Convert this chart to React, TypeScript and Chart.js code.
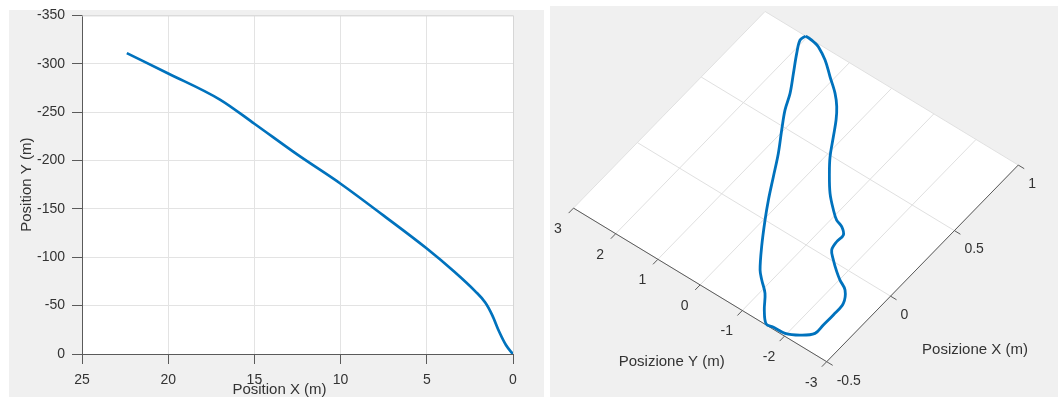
import React, { useEffect, useRef } from "react";
import { Chart, registerables } from "chart.js";

Chart.register(...registerables);

const FONT = "'Liberation Sans', Arial, Helvetica, sans-serif";
const BLUE = "#0072BD";
const TEXT = "#333333";
const AXIS = "#5a5a5a";
const GRID = "#e3e3e3";
const PANEL = "#f0f0f0";

// ---------- Left chart: Position X vs Position Y ----------
const trajX = [22.4, 20.0, 17.0, 15.0, 12.5, 10.0, 7.5, 5.0, 3.4, 2.2, 1.6, 1.2, 0.8, 0.4, 0.1, 0];
const trajY = [-311, -290, -263, -238, -206, -176, -143, -109, -85, -65, -53, -40, -23, -9, -2, 0];
const leftXRange = [0, 25];
const leftYRange = [-350, 0];
const leftXStep = 5;
const leftYStep = 50;
const leftXTitle = "Position X (m)";
const leftYTitle = "Position Y (m)";

// ---------- Right chart: closed loop seen in a 3D view ----------
const loopX = [1.0, 0.965, 0.891, 0.786, 0.68, 0.585, 0.48, 0.358, 0.232, 0.106, 0.0, -0.138, -0.254, -0.297, -0.352, -0.434, -0.495, -0.49, -0.485, -0.45, -0.398, -0.334, -0.257, -0.172, -0.103, -0.07, -0.039, 0.007, 0.05, 0.104, 0.156, 0.191, 0.208, 0.247, 0.317, 0.411, 0.493, 0.598, 0.686, 0.752, 0.811, 0.876, 0.942, 0.986, 0.995, 1.0, 1.0];
const loopY = [2.038, 2.064, 1.92, 1.68, 1.439, 1.272, 1.032, 0.743, 0.479, 0.215, -0.026, -0.363, -0.677, -0.847, -1.09, -1.322, -1.549, -1.697, -1.967, -2.216, -2.415, -2.418, -2.422, -2.402, -2.233, -2.014, -1.843, -1.624, -1.454, -1.408, -1.41, -1.265, -1.093, -0.899, -0.607, -0.307, -0.075, 0.165, 0.367, 0.551, 0.769, 1.085, 1.402, 1.695, 1.816, 1.963, 2.038];
const rightXTicks = [-0.5, 0, 0.5, 1];
const rightYTicks = [-3, -2, -1, 0, 1, 2, 3];
const rightXTitle = "Posizione X (m)";
const rightYTitle = "Posizione Y (m)";

// view (projection of the horizontal plane into the right canvas)
const VIEW = { ox: 276.7, oy: 355.7, ex: [127.7, -131.1], ey: [-42.2, -25.6] };
const RX = [rightXTicks[0], rightXTicks[rightXTicks.length - 1]];
const RY = [rightYTicks[0], rightYTicks[rightYTicks.length - 1]];
const RIGHT_W = 508;
const RIGHT_H = 391;

function project(X: number, Y: number) {
  const a = X - RX[0];
  const b = Y - RY[0];
  return {
    x: VIEW.ox + VIEW.ex[0] * a + VIEW.ey[0] * b,
    y: VIEW.oy + VIEW.ex[1] * a + VIEW.ey[1] * b,
  };
}

function LeftChart() {
  const ref = useRef<HTMLCanvasElement>(null);
  useEffect(() => {
    const plotBg = {
      id: "plotBg",
      beforeDraw(chart: any) {
        const { ctx, chartArea: a } = chart;
        ctx.save();
        ctx.fillStyle = "#ffffff";
        ctx.fillRect(a.left, a.top, a.right - a.left, a.bottom - a.top);
        ctx.restore();
      },
      beforeDatasetsDraw(chart: any) {
        const { ctx, chartArea: a } = chart;
        ctx.save();
        ctx.strokeStyle = "#d6d6d6";
        ctx.lineWidth = 1;
        ctx.beginPath();
        ctx.moveTo(a.left, a.top + 0.5);
        ctx.lineTo(a.right + 0.5, a.top + 0.5);
        ctx.lineTo(a.right + 0.5, a.bottom);
        ctx.stroke();
        ctx.restore();
      },
      afterDraw(chart: any) {
        const { ctx, chartArea: a } = chart;
        ctx.save();
        ctx.fillStyle = TEXT;
        ctx.font = `15px ${FONT}`;
        ctx.textAlign = "center";
        ctx.textBaseline = "middle";
        ctx.fillText(leftXTitle, (a.left + a.right) / 2 - 18, a.bottom + 35.5);
        ctx.restore();
      },
    };
    const chart = new Chart(ref.current!, {
      type: "line",
      data: {
        datasets: [
          {
            data: trajX.map((x, i) => ({ x, y: trajY[i] })),
            borderColor: BLUE,
            borderWidth: 2.7,
            pointRadius: 0,
            cubicInterpolationMode: "monotone",
            fill: false,
          },
        ],
      },
      options: {
        responsive: false,
        animation: false,
        layout: { padding: { top: 15, right: 31, left: 0, bottom: 0 } },
        plugins: { legend: { display: false }, tooltip: { enabled: false } },
        scales: {
          x: {
            type: "linear",
            reverse: true,
            min: leftXRange[0],
            max: leftXRange[1],
            afterFit: (s: any) => {
              s.height = 43;
            },
            ticks: { stepSize: leftXStep, padding: 8, color: TEXT, font: { family: FONT, size: 14 } },
            grid: { color: GRID, tickColor: AXIS, tickLength: 10, drawTicks: true },
            border: { color: AXIS, width: 1 },
          },
          y: {
            type: "linear",
            reverse: true,
            min: leftYRange[0],
            max: leftYRange[1],
            afterFit: (s: any) => {
              s.width = 73;
            },
            ticks: { stepSize: leftYStep, padding: 7, color: TEXT, font: { family: FONT, size: 14 } },
            grid: { color: GRID, tickColor: AXIS, tickLength: 10, drawTicks: true },
            border: { color: AXIS, width: 1 },
            title: {
              display: true,
              text: leftYTitle,
              color: TEXT,
              font: { family: FONT, size: 15, lineHeight: 1.2 },
              padding: { top: 9, bottom: 0 },
            },
          },
        },
      },
      plugins: [plotBg],
    } as any);
    return () => chart.destroy();
  }, []);
  return (
    <>
      <div style={{ position: "absolute", left: 9, top: 10, width: 535, height: 387, background: PANEL }} />
      <canvas
        ref={ref}
        width={535}
        height={397}
        style={{ position: "absolute", left: 9, top: 0, width: 535, height: 397 }}
      />
    </>
  );
}

function RightChart() {
  const ref = useRef<HTMLCanvasElement>(null);
  useEffect(() => {
    const box3d = {
      id: "box3d",
      beforeDatasetsDraw(chart: any) {
        const { ctx } = chart;
        const xs = chart.scales.x;
        const ys = chart.scales.y;
        const P = (X: number, Y: number) => {
          const p = project(X, Y);
          return { x: xs.getPixelForValue(p.x), y: ys.getPixelForValue(p.y) };
        };
        ctx.save();
        // plane face
        const c1 = P(RX[0], RY[0]);
        const c2 = P(RX[1], RY[0]);
        const c3 = P(RX[1], RY[1]);
        const c4 = P(RX[0], RY[1]);
        ctx.fillStyle = "#ffffff";
        ctx.beginPath();
        ctx.moveTo(c1.x, c1.y);
        ctx.lineTo(c2.x, c2.y);
        ctx.lineTo(c3.x, c3.y);
        ctx.lineTo(c4.x, c4.y);
        ctx.closePath();
        ctx.fill();
        // grid
        ctx.strokeStyle = "#e0e0e0";
        ctx.lineWidth = 1;
        for (const xt of rightXTicks) {
          const a = P(xt, RY[0]);
          const b = P(xt, RY[1]);
          ctx.beginPath();
          ctx.moveTo(a.x, a.y);
          ctx.lineTo(b.x, b.y);
          ctx.stroke();
        }
        for (const yt of rightYTicks) {
          const a = P(RX[0], yt);
          const b = P(RX[1], yt);
          ctx.beginPath();
          ctx.moveTo(a.x, a.y);
          ctx.lineTo(b.x, b.y);
          ctx.stroke();
        }
        // axis lines
        ctx.strokeStyle = AXIS;
        ctx.beginPath();
        ctx.moveTo(c4.x, c4.y);
        ctx.lineTo(c1.x, c1.y);
        ctx.lineTo(c2.x, c2.y);
        ctx.stroke();
        // ticks
        const exLen = Math.hypot(VIEW.ex[0], VIEW.ex[1]);
        const eyLen = Math.hypot(VIEW.ey[0], VIEW.ey[1]);
        const tickLen = 7;
        ctx.beginPath();
        for (const yt of rightYTicks) {
          const a = P(RX[0], yt);
          ctx.moveTo(a.x, a.y);
          ctx.lineTo(a.x - (VIEW.ex[0] / exLen) * tickLen, a.y - (VIEW.ex[1] / exLen) * tickLen);
        }
        for (const xt of rightXTicks) {
          const a = P(xt, RY[0]);
          ctx.moveTo(a.x, a.y);
          ctx.lineTo(a.x - (VIEW.ey[0] / eyLen) * tickLen, a.y - (VIEW.ey[1] / eyLen) * tickLen);
        }
        ctx.stroke();
        // tick labels
        ctx.fillStyle = TEXT;
        ctx.font = `14px ${FONT}`;
        ctx.textBaseline = "middle";
        ctx.textAlign = "center";
        for (const yt of rightYTicks) {
          const a = P(RX[0], yt);
          ctx.fillText(String(yt), a.x - 15.5, a.y + 21);
        }
        ctx.textAlign = "left";
        for (const xt of rightXTicks) {
          const a = P(xt, RY[0]);
          ctx.fillText(String(xt), a.x + 10, a.y + 19);
        }
        // titles
        ctx.font = `15px ${FONT}`;
        ctx.textAlign = "center";
        const ym = P(RX[0], (RY[0] + RY[1]) / 2);
        ctx.fillText(rightYTitle, ym.x - 28.4, ym.y + 76.8);
        const xm = P((RX[0] + RX[1]) / 2, RY[0]);
        ctx.fillText(rightXTitle, xm.x + 52.5, xm.y + 86.6);
        ctx.restore();
      },
    };
    const chart = new Chart(ref.current!, {
      type: "line",
      data: {
        datasets: [
          {
            data: loopX.map((x, i) => project(x, loopY[i])),
            borderColor: BLUE,
            borderWidth: 2.8,
            pointRadius: 0,
            tension: 0.35,
            fill: false,
          },
        ],
      },
      options: {
        responsive: false,
        animation: false,
        layout: { padding: 0 },
        plugins: { legend: { display: false }, tooltip: { enabled: false } },
        scales: {
          x: { type: "linear", min: 0, max: RIGHT_W, display: false },
          y: { type: "linear", min: 0, max: RIGHT_H, reverse: true, display: false },
        },
      },
      plugins: [box3d],
    } as any);
    return () => chart.destroy();
  }, []);
  return (
    <canvas
      ref={ref}
      width={RIGHT_W}
      height={RIGHT_H}
      style={{ position: "absolute", left: 550, top: 6, width: RIGHT_W, height: RIGHT_H, background: PANEL }}
    />
  );
}

export default function App() {
  return (
    <div style={{ position: "absolute", left: 0, top: 0, width: 1058, height: 401, background: "#ffffff", overflow: "hidden" }}>
      <LeftChart />
      <RightChart />
    </div>
  );
}
